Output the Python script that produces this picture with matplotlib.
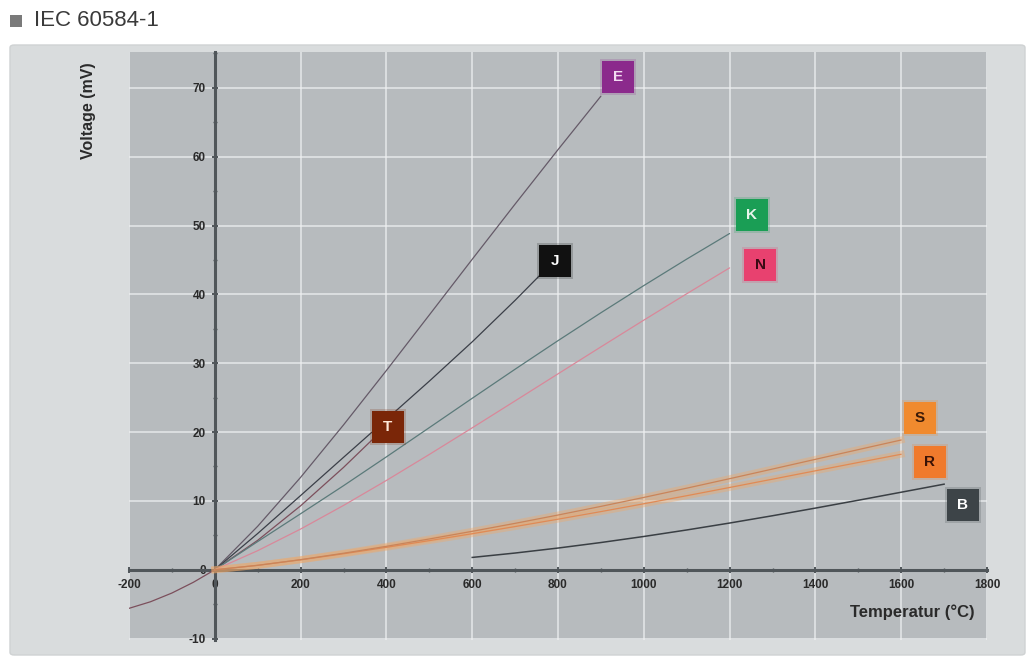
import matplotlib
matplotlib.use("Agg")
import matplotlib.pyplot as plt
from matplotlib.patches import FancyBboxPatch, Rectangle
from matplotlib.ticker import MultipleLocator

plt.rcParams['font.family'] = ['Liberation Sans', 'DejaVu Sans']

# Thermoelectric voltage (mV) per thermocouple type, IEC 60584-1
temp_T = [-200, -150, -100, -50, 0, 100, 200, 300, 400]
volt_T = [-5.603, -4.648, -3.379, -1.819, 0.0, 4.279, 9.288, 14.862, 20.872]

temp_E = [0, 100, 200, 300, 400, 500, 600, 700, 800, 900]
volt_E = [0.0, 6.319, 13.421, 21.036, 28.946, 37.005, 45.093, 53.112, 61.017, 68.787]

temp_J = [0, 100, 200, 300, 400, 500, 600, 700, 760]
volt_J = [0.0, 5.269, 10.779, 16.327, 21.848, 27.393, 33.102, 39.132, 42.919]

temp_K = [0, 100, 200, 300, 400, 500, 600, 700, 800, 900, 1000, 1100, 1200]
volt_K = [0.0, 4.096, 8.138, 12.209, 16.397, 20.644, 24.905, 29.129, 33.275,
          37.326, 41.276, 45.119, 48.838]

temp_N = [0, 100, 200, 300, 400, 500, 600, 700, 800, 900, 1000, 1100, 1200]
volt_N = [0.0, 2.774, 5.913, 9.341, 12.974, 16.748, 20.613, 24.527, 28.455,
          32.371, 36.256, 40.087, 43.846]

temp_S = [0, 100, 200, 300, 400, 500, 600, 700, 800, 900, 1000, 1100, 1200,
          1300, 1400, 1500, 1600]
volt_S = [0.0, 0.646, 1.441, 2.323, 3.259, 4.233, 5.239, 6.275, 7.345, 8.449,
          9.587, 10.757, 11.951, 13.159, 14.373, 15.582, 16.777]

temp_R = [0, 100, 200, 300, 400, 500, 600, 700, 800, 900, 1000, 1100, 1200,
          1300, 1400, 1500, 1600]
volt_R = [0.0, 0.647, 1.469, 2.401, 3.408, 4.471, 5.583, 6.743, 7.950, 9.205,
          10.506, 11.850, 13.228, 14.629, 16.040, 17.451, 18.849]

temp_B = [600, 700, 800, 900, 1000, 1100, 1200, 1300, 1400, 1500, 1600, 1700]
volt_B = [1.792, 2.431, 3.154, 3.957, 4.834, 5.780, 6.786, 7.848, 8.956,
          10.099, 11.263, 12.433]

# Type tags and where they sit (°C, mV)
tag_names = ['E', 'J', 'K', 'N', 'T', 'S', 'R', 'B']
tag_x = [940, 793, 1252, 1271, 403, 1644, 1667, 1744]
tag_y = [71.6, 44.8, 51.5, 44.3, 20.8, 22.1, 15.7, 9.4]

x_ticks = [-200, 0, 200, 400, 600, 800, 1000, 1200, 1400, 1600, 1800]
y_ticks = [-10, 0, 10, 20, 30, 40, 50, 60, 70]

W, H = 1029, 659
fig = plt.figure(figsize=(W / 100, H / 100), dpi=100)
fig.patch.set_facecolor('white')

# Title line
fig.patches.append(Rectangle((10 / W, 1 - 27 / H), 12 / W, 12 / H,
                             transform=fig.transFigure, facecolor='#7a7a7a',
                             edgecolor='none', zorder=-5))
fig.text(34 / W, 1 - 21 / H, 'IEC 60584-1', fontsize=16, color='#3a3a3a',
         va='center', ha='left')

# Light outer panel
fig.patches.append(FancyBboxPatch((10 / W, 4 / H), 1015 / W, 610 / H,
                                  boxstyle='round,pad=0,rounding_size=0.004',
                                  transform=fig.transFigure,
                                  facecolor='#d9dcdd', edgecolor='#cfd2d3',
                                  linewidth=1, zorder=-10))

ax = fig.add_axes([129 / W, 19 / H, 858 / W, 588 / H])
ax.set_zorder(1)
ax.set_facecolor('#b7bbbe')
ax.set_xlim(-200, 1800)
ax.set_ylim(-10.2, 75.2)

ax.xaxis.set_minor_locator(MultipleLocator(100))
ax.yaxis.set_minor_locator(MultipleLocator(5))
ax.set_xticks(x_ticks)
ax.set_yticks(y_ticks)
ax.set_xticklabels([str(v) for v in x_ticks])
ax.set_yticklabels([str(v) for v in y_ticks])

ax.grid(True, which='major', color='#eef0f1', linewidth=1.1, alpha=0.85)
ax.set_axisbelow(True)

for side in ('top', 'right'):
    ax.spines[side].set_visible(False)
ax.spines['left'].set_position(('data', 0))
ax.spines['bottom'].set_position(('data', 0))
for side in ('left', 'bottom'):
    ax.spines[side].set_color('#50565a')
    ax.spines[side].set_linewidth(2.2)
    ax.spines[side].set_zorder(2)

ax.tick_params(which='major', direction='inout', length=5, width=1.4,
               color='#50565a', labelsize=8.5, labelcolor='#2a2a2a', pad=4)
ax.tick_params(which='minor', direction='inout', length=3, width=1.0,
               color='#50565a')
for lab in ax.get_xticklabels() + ax.get_yticklabels():
    lab.set_fontweight('bold')

# Curves
thin = dict(linewidth=0.9, zorder=3, solid_capstyle='round')
ax.plot(temp_T, volt_T, color='#7c4f5c', **thin)
ax.plot(temp_E, volt_E, color='#655a68', **thin)
ax.plot(temp_J, volt_J, color='#3b3f48', **thin)
ax.plot(temp_K, volt_K, color='#5b7a7a', **thin)
ax.plot(temp_N, volt_N, color='#d9889a', **thin)
for tx, vy in ((temp_S, volt_S), (temp_R, volt_R)):
    ax.plot(tx, vy, color='#f0a868', linewidth=5, alpha=0.4, zorder=3)
ax.plot(temp_S, volt_S, color='#e08a55', **thin)
ax.plot(temp_R, volt_R, color='#c9845a', **thin)
ax.plot(temp_B, volt_B, color='#3a3f44', linewidth=1.1, zorder=3)

# Type tags
tag_face = ['#8b2a8c', '#111111', '#1a9e55', '#e8416f', '#7a2608',
            '#f08a2e', '#f07a2c', '#3d4448']
tag_text = ['#f2dcf2', '#ffffff', '#e8f5ec', '#3a0a14', '#ffe8d8',
            '#3a1a08', '#3a1206', '#ffffff']
for name, x, y, fc, tc in zip(tag_names, tag_x, tag_y, tag_face, tag_text):
    ax.plot(x, y, marker='s', markersize=26, color=fc, alpha=0.2,
            markeredgewidth=0, zorder=4, clip_on=False)
    ax.plot(x, y, marker='s', markersize=22.5, color=fc,
            markeredgewidth=0, zorder=5, clip_on=False)
    ax.text(x, y, name, ha='center', va='center', fontsize=11,
            fontweight='bold', color=tc, zorder=6)

# Axis titles
fig.text(88 / W, 1 - 62 / H, 'Voltage (mV)', rotation=90, ha='center',
         va='top', fontsize=11.5, fontweight='bold', color='#2a2a2a')
fig.text(975 / W, 1 - 612 / H, 'Temperatur (°C)', ha='right', va='center',
         fontsize=12, fontweight='bold', color='#2a2a2a')

fig.savefig('out.png', dpi=100, facecolor=fig.get_facecolor())
